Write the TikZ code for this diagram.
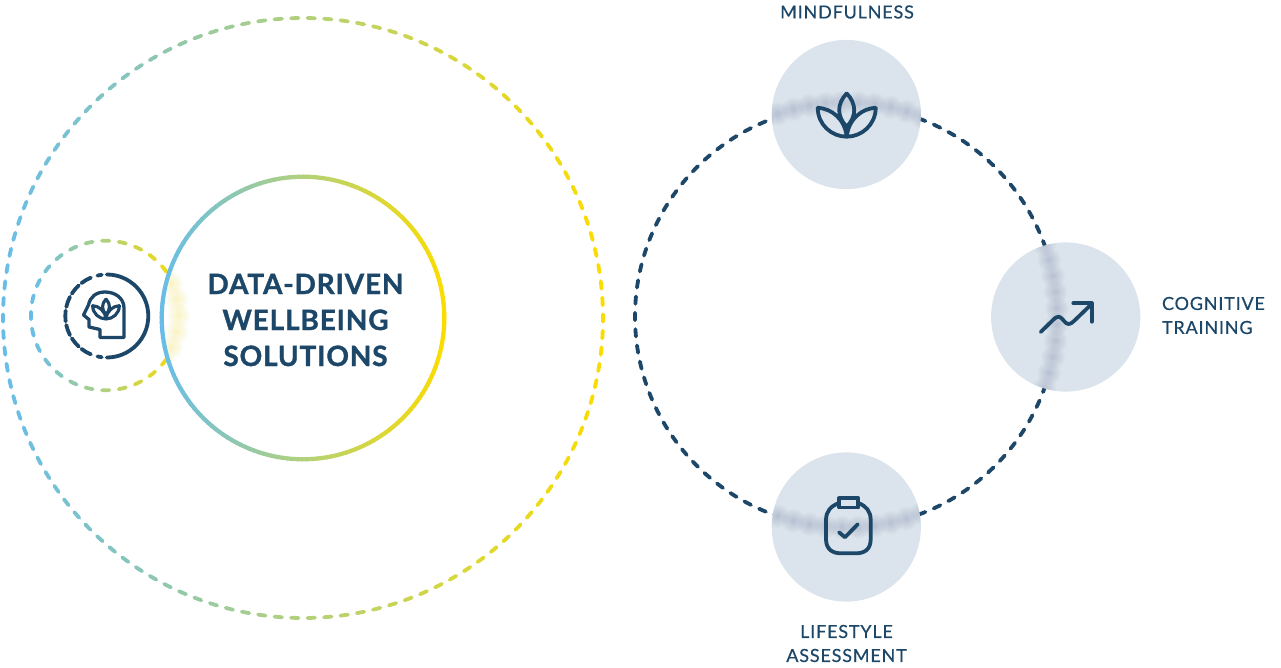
\documentclass[tikz,border=0pt]{standalone}
\usepackage{fontspec}
\setmainfont{Lato}
\definecolor{navy}{HTML}{1D4768}
\definecolor{pale}{HTML}{DBE4EC}
\definecolor{gb}{HTML}{68BDE8}
\definecolor{gm}{HTML}{B2D17C}
\definecolor{gy}{HTML}{FBDC00}
\newcommand\gradcolor[1]{%
  \pgfmathsetmacro\gvt{(1+cos(#1))*100}%
  \ifdim\gvt pt<100pt\relax\colorlet{gc}{gm!\gvt!gb}\else\pgfmathsetmacro\gvu{\gvt-100}\colorlet{gc}{gy!\gvu!gm}\fi}
% centre x, centre y, radius, number of dashes, half dash angle
\newcommand\dashgrad[5]{%
  \foreach \ik in {1,...,#4}{%
    \pgfmathsetmacro\angA{180+\ik*(360/#4)}%
    \gradcolor{\angA}%
    \pgfmathsetmacro\angB{\angA-#5}\pgfmathsetmacro\angC{\angA+#5}%
    \draw[dashline,draw=gc] (#1,#2) ++(\angB:#3) arc[start angle=\angB,end angle=\angC,radius=#3];
  }}
\newcommand\solidgrad[3]{%
  \foreach \ik in {0,2,...,358}{%
    \gradcolor{\ik+1}%
    \pgfmathsetmacro\angC{\ik+2.4}%
    \draw[draw=gc,line width=4.2pt] (#1,#2) ++(\ik:#3) arc[start angle=\ik,end angle=\angC,radius=#3];
  }}
% centre x, centre y, radius, number, kmin, kmax, colour, layer opacity
\newcommand\blurdots[8]{%
  \foreach \ik in {#5,...,#6}{%
    \pgfmathsetmacro\angA{180+\ik*(360/#4)}%
    \foreach \rr in {1,2,3,4,5,6,7,8,9,10,11,12}{%
      \fill[#7,opacity=#8] (#1,#2) ++(\angA:#3) circle[radius=\rr];
    }
  }}
\newcommand\lotuspath{%
  (0,-43.3) .. controls (-10,-33) and (-10,-20) .. (0,-10) .. controls (10,-20) and (10,-33) .. (0,-43.3)
  (-29,-29) .. controls (-29,-12) and (-15,0) .. (0,0) .. controls (-2,-18) and (-15,-28) .. (-29,-29)
  (29,-29) .. controls (29,-12) and (15,0) .. (0,0) .. controls (2,-18) and (15,-28) .. (29,-29)}
\tikzset{
  dashline/.style={line width=3.8pt,line cap=round},
  navyline/.style={draw=navy,line width=3.8pt,line join=round,line cap=round},
  palecircle/.style={circle,fill=pale,inner sep=0pt,minimum size=149.2pt},
  lab/.style={text=navy,font=\fontsize{18}{24}\selectfont\addfontfeature{LetterSpace=4.5,FakeBold=0.5}},
}
\begin{document}
\begin{tikzpicture}[x=1pt,y=-1pt]
\useasboundingbox (0,0) rectangle (1281,668);
% left group
\dashgrad{303}{318}{300}{114}{0.72}
\dashgrad{105.7}{315.5}{74.8}{28}{2.8}
\node[circle,fill=white,inner sep=0pt,minimum size=284pt] (main) at (303,318) {};
\begin{scope}
  \clip (main.center) circle[radius=142];
  \blurdots{105.7}{315.5}{73}{28}{11}{17}{gy}{0.02}
\end{scope}
\solidgrad{303}{318}{141.3}
\node[text=navy,font=\fontsize{28}{36}\selectfont\bfseries\addfontfeature{LetterSpace=3,FakeBold=1.2},align=center] (title) at (305.5,320) {DATA-DRIVEN\\WELLBEING\\SOLUTIONS};
% head icon
\coordinate (hc) at (106.8,316);
\draw[navyline] (hc) ++(-90:41.5) arc[start angle=-90,end angle=90,radius=41.5];
\foreach \a in {100,120,...,260}{
  \pgfmathsetmacro\hl{(\a==100||\a==260)?3:7.5}
  \pgfmathsetmacro\hh{\a+\hl}\pgfmathsetmacro\hs{\a-\hl}
  \draw[navyline] (hc) ++(\hs:41.5) arc[start angle=\hs,end angle=\hh,radius=41.5];
}
\draw[navyline,line width=3.3pt] (100,337.5) -- (124,337.5) -- (124,308)
  .. controls (124,298) and (115,292) .. (105,292)
  .. controls (96,292) and (90,297) .. (88.5,305)
  -- (83.5,315) -- (89,319.5) -- (89,327) -- (100,329.5) -- cycle;
\begin{scope}[shift={(106,319)},scale=0.46]
  \draw[navyline,line width=3.1pt] \lotuspath;
\end{scope}
% ring
\foreach \ik in {1,...,81}{
  \pgfmathsetmacro\angA{180+\ik*(360/81)}
  \pgfmathsetmacro\angB{\angA-1.0}\pgfmathsetmacro\angC{\angA+1.0}
  \draw[dashline,draw=navy] (846,316.5) ++(\angB:211) arc[start angle=\angB,end angle=\angC,radius=211];
}
\node[palecircle] (mind) at (846.3,114.5) {};
\node[palecircle] (cog) at (1065.7,317) {};
\node[palecircle] (life) at (846.3,527) {};
\begin{scope}
  \clip (mind.center) circle[radius=74.6];
  \blurdots{846}{313.5}{211}{81}{11}{29}{navy}{0.015}
\end{scope}
\begin{scope}
  \clip (cog.center) circle[radius=74.6];
  \blurdots{846}{316.5}{211}{81}{30}{51}{navy}{0.015}
\end{scope}
\begin{scope}
  \clip (life.center) circle[radius=74.6];
  \blurdots{846}{316.5}{211}{81}{-31}{-9}{navy}{0.015}
\end{scope}
% lotus
\begin{scope}[shift={(846.7,136.7)}]
  \draw[navyline] \lotuspath;
\end{scope}
% arrow
\draw[navyline] (1040.7,332) -- (1053,320) .. controls (1058,315) and (1060,316) .. (1064,321)
  .. controls (1067,325) and (1070,325) .. (1074,321) -- (1091.7,304);
\draw[navyline] (1073.3,303.3) -- (1091.7,303.3) -- (1091.7,321.7);
% clipboard
\draw[navyline] (839,503) .. controls (831,506) and (826,511) .. (826,520) -- (826,539)
  .. controls (826,549) and (832,553.3) .. (841,553.3) -- (856,553.3)
  .. controls (865,553.3) and (870.7,549) .. (870.7,539) -- (870.7,520)
  .. controls (870.7,511) and (866,506) .. (858.3,503);
\draw[navyline] (839,498.3) rectangle (858.3,507.5);
\draw[navyline] (839,532.3) -- (845,537.3) -- (857.7,524.3);
% labels
\node[lab] (lm) at (847,12) {MINDFULNESS};
\node[lab,align=left,anchor=west] (lc) at (1158.5,315.5) {COGNITIVE\\TRAINING};
\node[lab,align=center] (ll) at (846.5,643.5) {LIFESTYLE\\ASSESSMENT};
\end{tikzpicture}
\end{document}
